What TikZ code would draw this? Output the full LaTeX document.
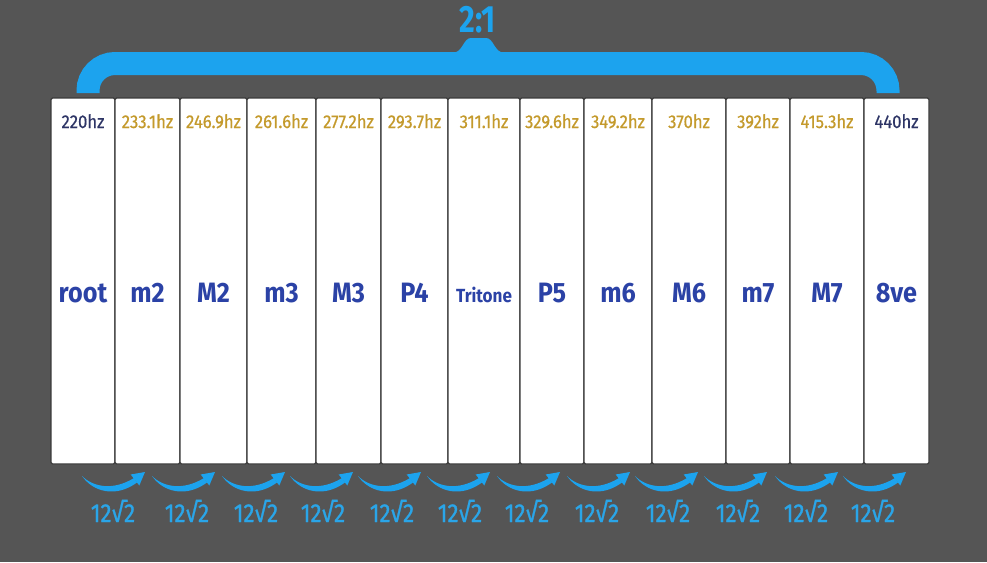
\documentclass[tikz,border=0pt]{standalone}
\usepackage{fontspec}
\setmainfont{Fira Sans}
\newfontfamily\freqfont[FakeBold=0.6,FakeStretch=0.9]{Fira Sans}
\newfontfamily\labfont[FakeStretch=0.9]{Fira Sans}
\newfontfamily\ratiofont[FakeStretch=0.8]{Fira Sans}
\newfontfamily\rootfont[FakeStretch=0.86,FakeBold=1]{Fira Sans}
\definecolor{bgcol}{HTML}{555555}
\definecolor{braceblue}{HTML}{1CA3EE}
\definecolor{labblue}{HTML}{2B42A6}
\definecolor{navy}{HTML}{2E3566}
\definecolor{gold}{HTML}{C49A2C}
\definecolor{edgecol}{HTML}{3A3A3A}
\definecolor{rootblue}{HTML}{2AA5E8}
\tikzset{
  box/.style={draw=edgecol, fill=white, line width=1.2pt, rounded corners=1.5pt,
    inner sep=0pt, outer sep=0pt, minimum height=366pt},
  freqlab/.style={font=\freqfont\fontsize{18.5}{21}\selectfont, inner sep=0pt, anchor=base},
  intlab/.style={font=\labfont\bfseries\fontsize{28}{32}\selectfont, text=labblue, inner sep=0pt, anchor=base},
  ratiolab/.style={font=\ratiofont\bfseries\fontsize{38}{42}\selectfont, text=braceblue, inner sep=0pt, anchor=base},
  rootlab/.style={font=\rootfont\fontsize{26}{30}\selectfont, text=rootblue, inner sep=0pt, anchor=base},
  swoosh/.pic={
    \fill[braceblue] (-31,4) .. controls (-20,15) and (0,19) .. (21,6)
       -- (24,10.5) .. controls (3,26) and (-20,20) .. (-31,4) -- cycle;
    \fill[braceblue] (32,0) -- (17.7,2.5) -- (26.3,13.5) -- cycle;
  }
}
\begin{document}
\begin{tikzpicture}[x=1pt,y=-1pt]
\fill[bgcol] (0,0) rectangle (987,562);
\useasboundingbox (0,0) rectangle (987,562);
\coordinate (fy) at (0,128);
\coordinate (iy) at (0,302);
% brace
\draw[braceblue, line width=23pt, rounded corners=27pt] (88,93) -- (88,63.5) -- (888,63.5) -- (888,93);
\fill[braceblue] (452,53) .. controls (463,53) and (463,38) .. (471,38) -- (486,38)
  .. controls (494,38) and (494,53) .. (505,53) -- cycle;
\node[ratiolab] (ratio) at (478,32) {2:1};
% boxes
\foreach \i/\lft/\rgt/\fq/\nm/\fc in {
  0/51/115/220hz/root/navy,
  1/115/180/233.1hz/m2/gold,
  2/180/247/246.9hz/M2/gold,
  3/247/316/261.6hz/m3/gold,
  4/316/381/277.2hz/M3/gold,
  5/381/448/293.7hz/P4/gold,
  6/448/520/311.1hz/{{\fontsize{19}{22}\selectfont Tritone}}/gold,
  7/520/584/329.6hz/P5/gold,
  8/584/652/349.2hz/m6/gold,
  9/652/726/370hz/M6/gold,
  10/726/790/392hz/m7/gold,
  11/790/864/415.3hz/M7/gold,
  12/864/929/440hz/8ve/navy}{
  \node[box, minimum width={\rgt-\lft}] (b\i) at ({(\lft+\rgt)/2},281) {};
  \node[freqlab, text=\fc] (f\i) at (b\i |- fy) {\fq};
  \node[intlab] (n\i) at (b\i |- iy) {\nm};
}
% swooshes and ratios
\foreach \k/\ax/\lx in {1/113/113, 2/183/187, 3/253/256, 4/321/323, 5/389/392, 6/458/460,
  7/528/527, 8/598/597, 9/666/668, 10/735/738, 11/806/806, 12/874/873}{
  \pic at (\ax,472) {swoosh};
  \node[rootlab] (r\k) at (\lx,522) {12√2};
}
\end{tikzpicture}
\end{document}
